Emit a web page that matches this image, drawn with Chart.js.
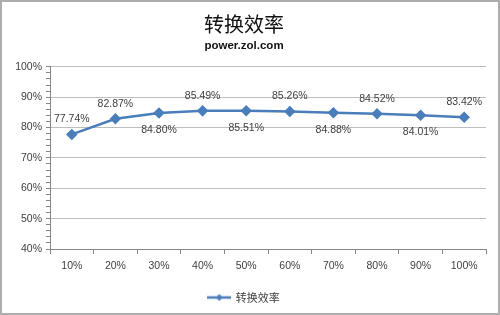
<!DOCTYPE html>
<html>
<head>
<meta charset="utf-8">
<script src="https://cdn.jsdelivr.net/npm/chart.js@4/dist/chart.umd.min.js"></script>
<style>
    html, body { margin: 0; padding: 0; background: #fff; }
    #frame { width: 500px; height: 315px; box-sizing: border-box; border: 2px solid #adadad; background: #fff; }
    canvas { display: block; }
</style>
</head>
<body>
<div id="frame"><canvas id="effChart" width="496" height="311"></canvas></div>
<script>
//#region Data
const loadLevels = ["10%", "20%", "30%", "40%", "50%", "60%", "70%", "80%", "90%", "100%"];
const efficiency = [77.74, 82.87, 84.80, 85.49, 85.51, 85.26, 84.88, 84.52, 84.01, 83.42];
const yTicks = [40, 50, 60, 70, 80, 90, 100];
const seriesName = "转换效率";
const chartTitle = "转换效率";
const chartSubtitle = "power.zol.com";
//#endregion

const lineColor = "#4a7ebb";
const labelSide = ["up", "up", "down", "up", "down", "up", "down", "up", "down", "up"];

//#region Legend Symbol
function MakeLegendSymbol() {
    const c = document.createElement("canvas");
    c.width = 24;
    c.height = 10;
    const ctx = c.getContext("2d");
    ctx.strokeStyle = lineColor;
    ctx.lineWidth = 2.5;
    ctx.beginPath();
    ctx.moveTo(0, 5);
    ctx.lineTo(24, 5);
    ctx.stroke();
    ctx.fillStyle = lineColor;
    ctx.beginPath();
    ctx.moveTo(12, 1.5);
    ctx.lineTo(15.5, 5);
    ctx.lineTo(12, 8.5);
    ctx.lineTo(8.5, 5);
    ctx.closePath();
    ctx.fill();
    return c;
}
//#endregion

//#region Value Labels Plugin
const valueLabels = {
    id: "valueLabels",
    afterDatasetsDraw(chart) {
        const ctx = chart.ctx;
        const meta = chart.getDatasetMeta(0);
        ctx.save();
        ctx.font = "10.5px 'Liberation Sans', Arial, sans-serif";
        ctx.fillStyle = "#404040";
        ctx.textAlign = "center";
        ctx.textBaseline = "middle";
        meta.data.forEach((pt, i) => {
            const dy = labelSide[i] === "up" ? -15 : 17;
            ctx.fillText(efficiency[i].toFixed(2) + "%", pt.x, pt.y + dy);
        });
        ctx.restore();
    }
};
//#endregion

//#region Load Chart
function LoadEfficiencyChart() {
    const element = document.querySelector("#effChart");
    new Chart(element, {
        type: "line",
        data: {
            labels: loadLevels,
            datasets: [{
                label: seriesName,
                data: efficiency,
                borderColor: lineColor,
                backgroundColor: lineColor,
                borderWidth: 2.5,
                tension: 0,
                pointStyle: "rectRot",
                pointRadius: 4,
                pointHoverRadius: 4,
                pointBackgroundColor: lineColor,
                pointBorderColor: lineColor
            }]
        },
        options: {
            responsive: false,
            animation: false,
            devicePixelRatio: 1,
            layout: { padding: { left: 0, right: 12, top: 0, bottom: 0 } },
            scales: {
                x: {
                    offset: true,
                    grid: {
                        offset: true,
                        drawOnChartArea: false,
                        tickLength: 5,
                        tickColor: "#868686"
                    },
                    border: { color: "#868686" },
                    ticks: {
                        color: "#404040",
                        padding: 6,
                        maxRotation: 0,
                        font: { family: "'Liberation Sans', Arial, sans-serif", size: 10.5 }
                    },
                    afterFit(scale) { scale.height = 33; }
                },
                y: {
                    min: 40,
                    max: 100,
                    ticks: {
                        stepSize: 2,
                        autoSkip: false,
                        color: "#404040",
                        padding: 4,
                        font: { family: "'Liberation Sans', Arial, sans-serif", size: 10.5 },
                        callback: (v) => yTicks.includes(v) ? v + "%" : ""
                    },
                    grid: {
                        color: (c) => c.tick && yTicks.includes(c.tick.value) ? "#bdbdbd" : "rgba(0,0,0,0)",
                        tickColor: "#868686",
                        tickLength: 4
                    },
                    border: { color: "#868686" },
                    afterFit(scale) { scale.width = 48; }
                }
            },
            plugins: {
                title: {
                    display: true,
                    text: chartTitle,
                    color: "#111",
                    font: { family: "'Noto Sans CJK SC', sans-serif", size: 20, weight: "normal", lineHeight: 1.2 },
                    padding: { top: 10, bottom: 0 }
                },
                subtitle: {
                    display: true,
                    text: chartSubtitle,
                    color: "#111",
                    font: { family: "'Liberation Sans', Arial, sans-serif", size: 11.5, weight: "bold", lineHeight: 1.2 },
                    padding: { top: 3, bottom: 14 }
                },
                legend: {
                    position: "bottom",
                    labels: {
                        usePointStyle: true,
                        pointStyle: MakeLegendSymbol(),
                        pointStyleWidth: 22,
                        color: "#404040",
                        padding: 10,
                        font: { family: "'Noto Sans CJK SC', sans-serif", size: 11 }
                    }
                },
                tooltip: { enabled: false }
            }
        },
        plugins: [valueLabels]
    });
}
//#endregion

window.addEventListener("DOMContentLoaded", () => {
    LoadEfficiencyChart();
});
</script>
</body>
</html>
